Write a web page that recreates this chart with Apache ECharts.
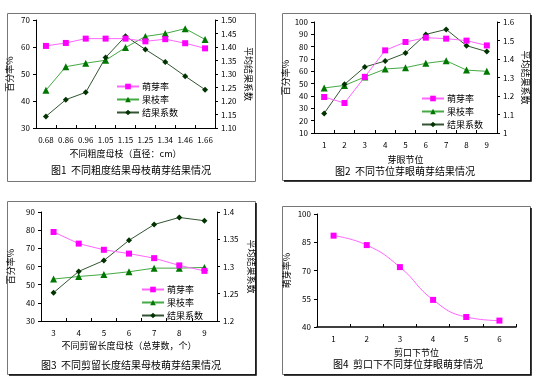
<!DOCTYPE html>
<html><head><meta charset="utf-8">
<script src="https://cdn.jsdelivr.net/npm/echarts@6/dist/echarts.min.js"></script>
<style>html,body{margin:0;padding:0;background:#fff}#c{width:538px;height:385px}</style>
</head><body><div id="c"></div>
<script>
// Figure 1
const cat1 = ['0.68','0.86','0.96','1.05','1.15','1.25','1.34','1.46','1.66'];
const germ1 = [60.4,61.5,63.1,63.1,63.1,62.1,62.9,61.4,59.5];
const branch1 = [44.0,52.7,54.0,55.1,59.8,63.9,65.0,66.8,62.8];
const coef1 = [1.143,1.205,1.232,1.361,1.440,1.391,1.344,1.292,1.242];
// Figure 2
const cat2 = ['1','2','3','4','5','6','7','8','9'];
const germ2 = [39.2,34.3,55.5,77.0,83.8,87.3,86.5,84.9,81.0];
const branch2 = [46.5,48.6,55.4,61.9,63.0,66.5,68.6,61.0,60.0];
const coef2 = [1.106,1.263,1.357,1.389,1.432,1.533,1.560,1.472,1.440];
// Figure 3
const cat3 = ['3','4','5','6','7','8','9'];
const germ3 = [79.0,72.6,69.2,67.1,64.6,60.6,57.6];
const branch3 = [53.1,54.5,55.6,57.1,59.1,59.1,59.5];
const coef3 = [1.252,1.291,1.311,1.348,1.377,1.390,1.384];
// Figure 4
const cat4 = ['1','2','3','4','5','6'];
const germ4 = [88.5,83.5,71.8,54.4,45.3,43.4];
const ticks4 = [40,55,70,85,100];

const names = ['萌芽率','果枝率','结果系数'];
const titles = ['图1  不同粗度结果母枝萌芽结果情况','图2  不同节位芽眼萌芽结果情况','图3  不同剪留长度结果母枝萌芽结果情况','图4  剪口下不同芽位芽眼萌芽情况'];

const FONT = '"Noto Sans CJK SC", sans-serif';
const axisLine = {show:true, lineStyle:{color:'#000', width:1}};
const lbl = {color:'#000', fontSize:8, fontFamily:FONT};
const nameStyle = {color:'#000', fontSize:9, fontFamily:FONT};

function xAx(grid, data){
  return {type:'category', gridIndex:grid, data:data, boundaryGap:true,
    axisLine:axisLine, axisTick:{show:true, length:3, inside:true, lineStyle:{color:'#000'}},
    axisLabel:Object.assign({margin:8, interval:0}, lbl), splitLine:{show:false}};
}
function yAx(grid, opts){
  return Object.assign({type:'value', gridIndex:grid, axisLine:axisLine,
    axisTick:{show:true, length:3, lineStyle:{color:'#000'}},
    axisLabel:Object.assign({margin:6}, lbl), splitLine:{show:false},
    nameLocation:'middle', nameTextStyle:nameStyle}, opts);
}
function ser(name, xi, yi, data, kind){
  const st = {
    '萌芽率':{sym:'rect', size:6, line:'#ff66ff', mk:'#ff00ff'},
    '果枝率':{sym:'triangle', size:7, line:'#44aa44', mk:'#007700'},
    '结果系数':{sym:'diamond', size:6, line:'#335533', mk:'#003300'}
  }[kind];
  return {name:name, type:'line', xAxisIndex:xi, yAxisIndex:yi, data:data,
    symbol:st.sym, symbolSize:st.size, showSymbol:true,
    lineStyle:{color:st.line, width:1}, itemStyle:{color:st.mk}, z:kind==='萌芽率'?3:2};
}
function legend(left, top){
  return {orient:'vertical', left:left, top:top, data:names, itemGap:4, padding:0,
    itemWidth:22, itemHeight:7, selectedMode:false,
    textStyle:{color:'#000', fontSize:9, fontFamily:FONT, padding:[0,0,0,-2]}};
}
function border(x1,y1,x2,y2,shadow){
  const els = [{type:'rect', shape:{x:x1+0.5,y:y1+0.5,width:x2-x1,height:y2-y1},
    style:{fill:null, stroke:'#777', lineWidth:1}, silent:true}];
  if (shadow){
    els.push({type:'polyline', shape:{points:[[x2+1,y1+2],[x2+1,y2+1],[x1+2,y2+1]]},
      style:{stroke:'#000', lineWidth:1.5, fill:null}, silent:true});
  }
  return els;
}
function ttl(text, x, y){
  return {type:'text', x:x, y:y, style:{text:text, textAlign:'center', textVerticalAlign:'middle',
    fill:'#000', fontSize:10, fontFamily:FONT}, silent:true};
}

const chart = echarts.init(document.getElementById('c'), null, {renderer:'canvas'});
chart.setOption({
  backgroundColor:'#fff',
  animation:false,
  grid:[
    {left:36, top:20, width:179, height:108},
    {left:314, top:22, width:183, height:111},
    {left:41, top:212, width:176, height:109},
    {left:317, top:214, width:199, height:113}
  ],
  xAxis:[
    Object.assign(xAx(0, cat1), {name:'不同粗度母枝（直径：cm）', nameLocation:'middle', nameGap:21, nameTextStyle:nameStyle}),
    Object.assign(xAx(1, cat2), {name:'芽眼节位', nameLocation:'middle', nameGap:22, nameTextStyle:nameStyle}),
    Object.assign(xAx(2, cat3), {name:'不同剪留长度母枝（总芽数，个）', nameLocation:'middle', nameGap:20, nameTextStyle:nameStyle}),
    Object.assign(xAx(3, cat4), {name:'剪口下节位', nameLocation:'middle', nameGap:21, nameTextStyle:nameStyle,
      axisLine:{show:true, lineStyle:{color:'#000', width:1.5}}})
  ],
  yAxis:[
    yAx(0, {min:30, max:70, interval:10, name:'百分率%', nameGap:22, nameRotate:90}),
    yAx(0, {min:1.10, max:1.50, interval:0.05, position:'right', name:'平均结果系数', nameGap:29, nameRotate:-90,
      axisLabel:Object.assign({margin:6, formatter:v=>v.toFixed(2)}, lbl)}),
    yAx(1, {min:10, max:100, interval:10, name:'百分率%', nameGap:24, nameRotate:90}),
    yAx(1, {min:1, max:1.6, interval:0.1, position:'right', name:'平均结果系数', nameGap:24, nameRotate:-90}),
    yAx(2, {min:30, max:90, interval:10, name:'百分率%', nameGap:26, nameRotate:90}),
    yAx(2, {min:1.2, max:1.4, interval:0.05, position:'right', name:'平均结果系数', nameGap:30, nameRotate:-90}),
    yAx(3, {min:40, max:100, name:'萌芽率%', nameGap:26, nameRotate:90,
      axisLabel:Object.assign({margin:6, customValues:ticks4}, lbl),
      axisTick:{show:true, length:3, lineStyle:{color:'#000'}, customValues:ticks4}})
  ],
  legend:[legend(116, 82), legend(421, 94), legend(141, 285)],
  series:[
    ser('萌芽率',0,0,germ1,'萌芽率'), ser('果枝率',0,0,branch1,'果枝率'), ser('结果系数',0,1,coef1,'结果系数'),
    ser('萌芽率',1,2,germ2,'萌芽率'), ser('果枝率',1,2,branch2,'果枝率'), ser('结果系数',1,3,coef2,'结果系数'),
    ser('萌芽率',2,4,germ3,'萌芽率'), ser('果枝率',2,4,branch3,'果枝率'), ser('结果系数',2,5,coef3,'结果系数'),
    Object.assign(ser('萌芽率 ',3,6,germ4,'萌芽率'), {smooth:true})
  ],
  graphic:[].concat(
    border(7,13,255,181,false),
    border(282,13,530,180,true),
    border(7,201,255,374,true),
    border(282,206,530,374,true),
    [ttl(titles[0],131,170), ttl(titles[1],405,171), ttl(titles[2],131,365), ttl(titles[3],408,364)]
  )
});
</script></body></html>
